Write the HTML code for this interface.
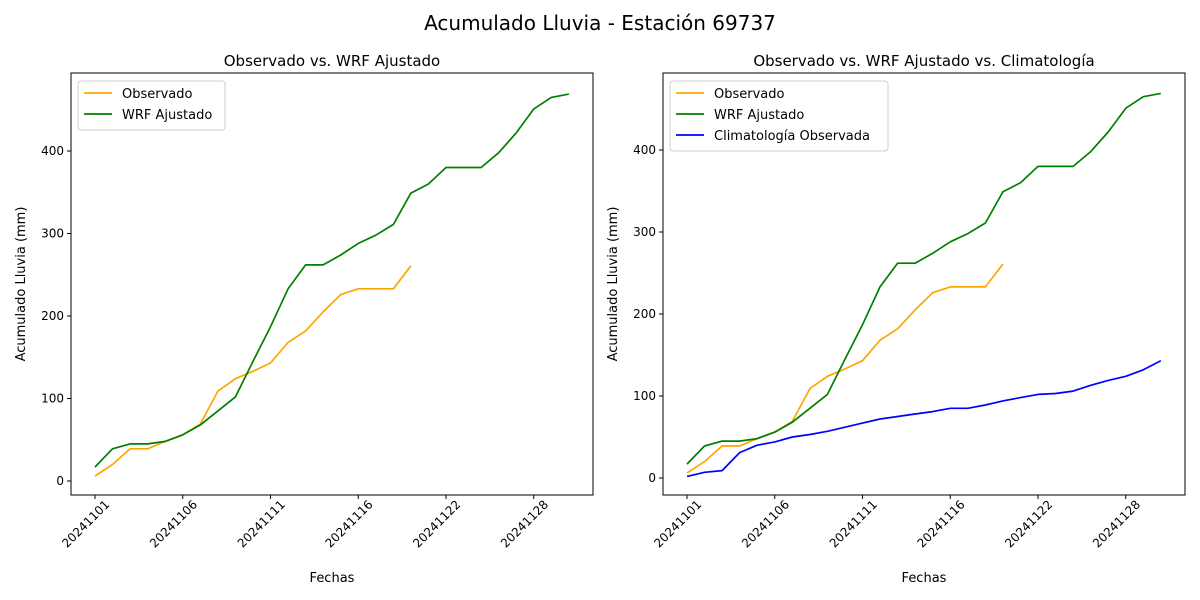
<!DOCTYPE html>
<html><head><meta charset="utf-8"><style>
body{margin:0;background:#fff;}
svg{display:block;font-family:"DejaVu Sans","Liberation Sans",sans-serif;}
</style></head><body>
<svg id="s" width="1200" height="600" xmlns="http://www.w3.org/2000/svg"></svg>
<script>
const G=[17,39,45,45,48,56,68,85,102,145,187,233,262,262,274,288,298,311,349,360,380,380,380,398,422,451,465,469];
const O=[6,20,39,39,48,56,69,109,124,133,143,168,182,205,226,233,233,233,261];
const B=[2,7,9,31,40,44,50,53,57,62,67,72,75,78,81,85,85,89,94,98,102,103,106,113,119,124,132,143];
let h='<rect width="1200" height="600" fill="#fff"/>';
h+='<text x="600" y="30" font-size="20" text-anchor="middle">Acumulado Lluvia - Estación 69737</text>';
function panel(x0,x1,zeroY,k,title,series,legend){
 const y0=73,y1=495;
 h+=`<text x="${(x0+x1)/2}" y="66" font-size="15" text-anchor="middle">${title}</text>`;
 const fx0=x0+24;const dx=17.55;
 const Y=v=>zeroY-k*v;
 for(const [arr,c] of series){
  h+=`<polyline fill="none" stroke="${c}" stroke-width="1.7" stroke-linejoin="round" points="${arr.map((v,i)=>(fx0+dx*i).toFixed(1)+','+Y(v).toFixed(1)).join(' ')}"/>`;
 }
 h+=`<rect x="${x0}" y="${y0}" width="${x1-x0}" height="${y1-y0}" fill="none" stroke="#000" stroke-width="1"/>`;
 for(let v=0;v<=400;v+=100){const y=Y(v);
  h+=`<line x1="${x0-4}" x2="${x0}" y1="${y}" y2="${y}" stroke="#000"/>`;
  h+=`<text x="${x0-7}" y="${y+4}" font-size="12" text-anchor="end">${v}</text>`;}
 const ticks=[[0,'20241101'],[5,'20241106'],[10,'20241111'],[15,'20241116'],[20,'20241122'],[25,'20241128']];
 for(const [i,l] of ticks){const x=fx0+dx*i;
  h+=`<line x1="${x}" x2="${x}" y1="${y1}" y2="${y1+4}" stroke="#000"/>`;
  h+=`<text transform="translate(${x+9},${y1+4}) rotate(-45)" font-size="12" text-anchor="end" dominant-baseline="hanging">${l}</text>`;}
 h+=`<text x="${(x0+x1)/2}" y="582" font-size="13" text-anchor="middle">Fechas</text>`;
 h+=`<text transform="translate(${x0-46},${(y0+y1)/2}) rotate(-90)" font-size="13" text-anchor="middle">Acumulado Lluvia (mm)</text>`;
 const lw=legend.w,lh=legend.items.length*21+7;
 h+=`<rect x="${x0+7}" y="81" width="${lw}" height="${lh}" rx="3" fill="#fff" stroke="#ccc"/>`;
 legend.items.forEach(([t,c],j)=>{const y=93+j*21;
  h+=`<line x1="${x0+13}" x2="${x0+41}" y1="${y}" y2="${y}" stroke="${c}" stroke-width="1.7"/>`;
  h+=`<text x="${x0+51}" y="${y+5}" font-size="13">${t}</text>`;});
}
panel(71,593,481,0.825,"Observado vs. WRF Ajustado",[[O,'orange'],[G,'green']],{w:147,items:[['Observado','orange'],['WRF Ajustado','green']]});
panel(663,1185,478,0.82,"Observado vs. WRF Ajustado vs. Climatología",[[O,'orange'],[G,'green'],[B,'blue']],{w:218,items:[['Observado','orange'],['WRF Ajustado','green'],['Climatología Observada','blue']]});
document.getElementById('s').innerHTML=h;
</script>
</body></html>
